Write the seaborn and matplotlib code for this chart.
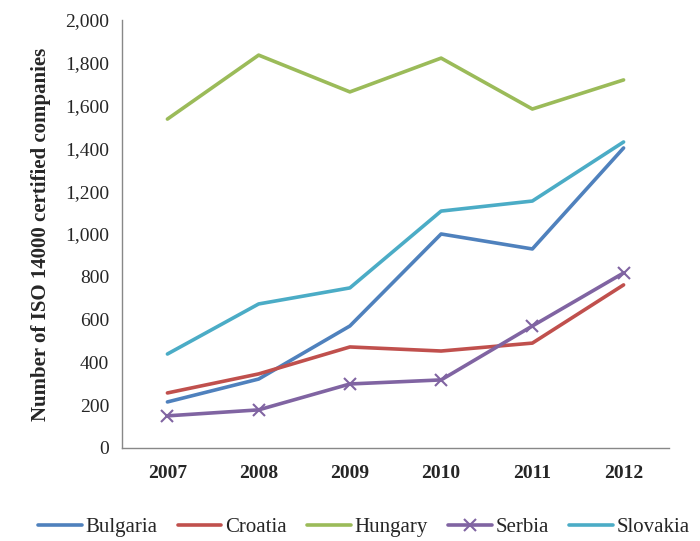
import pandas as pd
import matplotlib.pyplot as plt
import seaborn as sns
from matplotlib.ticker import FuncFormatter, FixedLocator

years = ["2007", "2008", "2009", "2010", "2011", "2012"]
bulgaria = [215, 322, 570, 1000, 930, 1402]
croatia = [257, 346, 472, 453, 490, 762]
hungary = [1537, 1836, 1664, 1822, 1584, 1720]
serbia = [150, 178, 299, 318, 570, 818]
slovakia = [439, 673, 748, 1107, 1154, 1430]

countries = ["Bulgaria", "Croatia", "Hungary", "Serbia", "Slovakia"]
colors = ["#4F81BD", "#C0504D", "#9BBB59", "#8064A2", "#4BACC6"]
markers = [None, None, None, "x", None]

sns.set_style("white")
plt.rcParams["font.family"] = ["Liberation Serif", "DejaVu Serif"]

fig = plt.figure(figsize=(7, 5.41), dpi=100)
ax = fig.add_axes([0.174, 0.172, 0.782, 0.791])

for name, vals, c, m in zip(countries, [bulgaria, croatia, hungary, serbia, slovakia], colors, markers):
    d = pd.DataFrame({"pos": range(len(years)), "Value": vals})
    sns.lineplot(data=d, x="pos", y="Value", color=c, linewidth=2.6, marker=m,
                 markersize=9, markeredgewidth=1.5, markeredgecolor=c,
                 label=name, ax=ax)

ax.set_xlim(-0.5, 5.5)
ax.set_ylim(0, 2000)
ax.yaxis.set_major_locator(FixedLocator(range(0, 2001, 200)))
ax.yaxis.set_major_formatter(FuncFormatter(lambda v, p: f"{int(v):,}"))
ax.set_xticks([x - 0.5 for x in range(7)])
ax.set_xticklabels([])
ax.set_xticks(range(6), minor=True)
ax.set_xticklabels(years, minor=True, fontweight="bold", fontsize=14)
ax.tick_params(axis="x", which="minor", length=0, pad=12)
ax.tick_params(axis="x", which="major", length=5, color="#888888", direction="out")
ax.tick_params(axis="y", length=5, color="#888888", direction="out", labelsize=14, pad=4)

for s in ["top", "right"]:
    ax.spines[s].set_visible(False)
for s in ["left", "bottom"]:
    ax.spines[s].set_color("#888888")
    ax.spines[s].set_linewidth(1.0)

ax.set_xlabel("")
ax.set_ylabel("Number of ISO 14000 certified companies", fontweight="bold",
              fontsize=15, labelpad=10)

handles, labels = ax.get_legend_handles_labels()
ax.legend(handles, labels, loc="center", bbox_to_anchor=(0.52, 0.025),
          bbox_transform=fig.transFigure, ncol=5, frameon=False, fontsize=15,
          handlelength=2.1, handletextpad=0.2, columnspacing=0.95,
          borderpad=0.1, borderaxespad=0)

plt.savefig("out.png", dpi=100)
